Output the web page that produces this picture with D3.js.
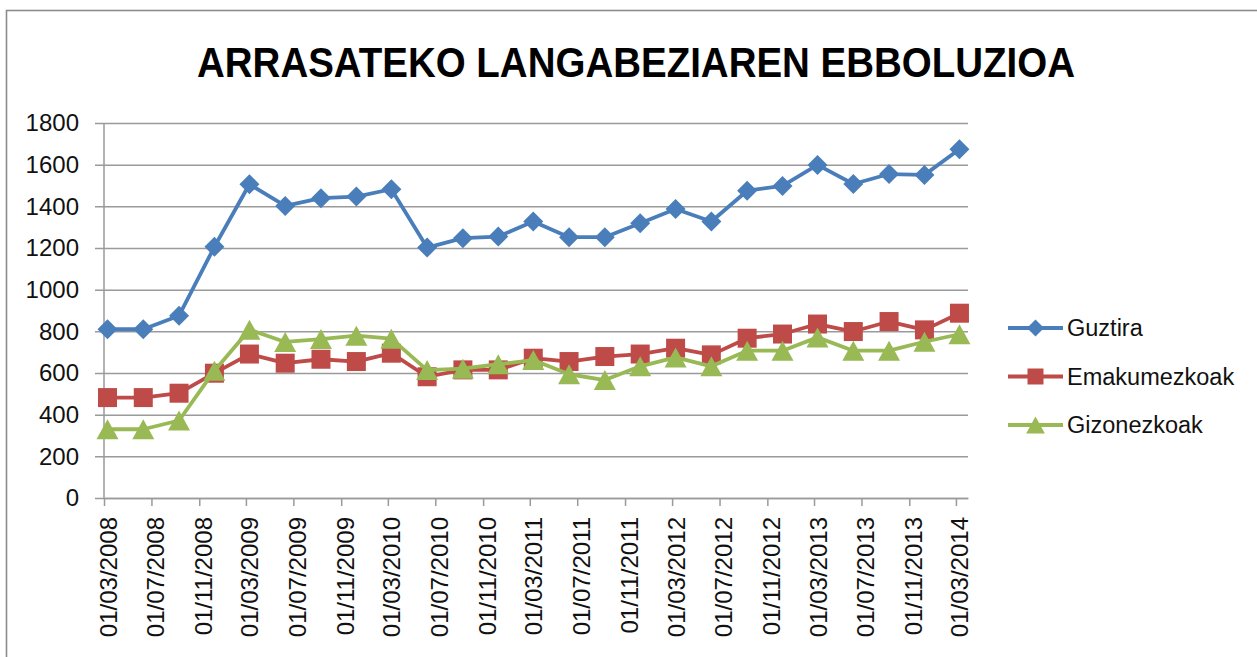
<!DOCTYPE html>
<html>
<head>
<meta charset="utf-8">
<script src="https://cdn.jsdelivr.net/npm/d3@7"></script>
<style>
  body { margin: 0; background: #fff; }
  text { font-family: "Liberation Sans", Arial, sans-serif; fill: #111; }
</style>
</head>
<body>
<div id="chart"></div>
<script>
// 1: DATA
const titleText = "ARRASATEKO LANGABEZIAREN EBBOLUZIOA";
const tickLabels = ["01/03/2008", "01/07/2008", "01/11/2008", "01/03/2009", "01/07/2009",
    "01/11/2009", "01/03/2010", "01/07/2010", "01/11/2010", "01/03/2011", "01/07/2011",
    "01/11/2011", "01/03/2012", "01/07/2012", "01/11/2012", "01/03/2013", "01/07/2013",
    "01/11/2013", "01/03/2014"];
const yTicks = [0, 200, 400, 600, 800, 1000, 1200, 1400, 1600, 1800];
const sampleDates = ["10/03/2008", "10/06/2008", "10/09/2008", "10/12/2008",
    "10/03/2009", "10/06/2009", "10/09/2009", "10/12/2009",
    "10/03/2010", "10/06/2010", "10/09/2010", "10/12/2010",
    "10/03/2011", "10/06/2011", "10/09/2011", "10/12/2011",
    "10/03/2012", "10/06/2012", "10/09/2012", "10/12/2012",
    "10/03/2013", "10/06/2013", "10/09/2013", "10/12/2013",
    "10/03/2014"];
const seriesNames = ["Guztira", "Emakumezkoak", "Gizonezkoak"];
const guztira = [810, 810, 875, 1206, 1506, 1402, 1439, 1447, 1482, 1202, 1247, 1255, 1327,
    1252, 1252, 1319, 1387, 1327, 1475, 1498, 1599, 1507, 1555, 1551, 1674];
const emakumezkoak = [482, 482, 503, 599, 691, 647, 666, 655, 695, 582, 615, 615, 671,
    655, 679, 691, 719, 687, 767, 787, 835, 799, 847, 807, 887];
const gizonezkoak = [330, 330, 372, 611, 808, 749, 763, 779, 765, 614, 621, 642, 662,
    594, 566, 632, 675, 632, 707, 707, 771, 707, 707, 750, 786];

// 2: LAYOUT
const W = 1257, H = 657;
const plot = { left: 104, right: 968, top: 123, bottom: 498 };
const gridColor = "#9a9a9a";

const parseDate = d3.timeParse("%d/%m/%Y");
const tickDates = tickLabels.map(parseDate);
const dates = sampleDates.map(parseDate);

const series = [
    { name: seriesNames[0], values: guztira, color: "#4a7ebb", marker: "diamond" },
    { name: seriesNames[1], values: emakumezkoak, color: "#be4b48", marker: "square" },
    { name: seriesNames[2], values: gizonezkoak, color: "#98b954", marker: "triangle" }
];

const markerPath = {
    diamond: r => `M0,${-r}L${r},0L0,${r}L${-r},0Z`,
    square: r => `M${-r},${-r}H${r}V${r}H${-r}Z`,
    triangle: r => `M0,${-r}L${r * 1.1},${r}L${-r * 1.1},${r}Z`
};
const markerSize = { diamond: 10, square: 9.5, triangle: 10 };

const svg = d3.select("#chart")
    .append("svg")
    .attr("width", W)
    .attr("height", H);

svg.append("rect")
    .attr("width", W).attr("height", H)
    .attr("fill", "#fff");

// outer chart frame (only top and left visible)
svg.append("rect")
    .attr("x", 6.5).attr("y", 10.5)
    .attr("width", W + 50).attr("height", H + 50)
    .attr("fill", "none")
    .attr("stroke", "#8c8c8c")
    .attr("stroke-width", 1.6);

// title
svg.append("text")
    .attr("x", 197)
    .attr("y", 77)
    .attr("font-size", 42)
    .attr("font-weight", "bold")
    .attr("textLength", 878)
    .attr("lengthAdjust", "spacingAndGlyphs")
    .style("fill", "#000")
    .text(titleText);

// 3: SCALES
const xScale = d3.scaleTime()
    .domain([parseDate("01/03/2008"), parseDate("01/04/2014")])
    .range([plot.left, plot.right]);

const yScale = d3.scaleLinear()
    .domain([0, 1800])
    .range([plot.bottom, plot.top]);

// 4: AXES
const yAxis = svg.append("g")
    .attr("transform", `translate(${plot.left - 9},0)`)
    .call(d3.axisLeft(yScale)
        .tickValues(yTicks)
        .tickFormat(d3.format("d"))
        .tickSize(-(plot.right - plot.left + 9))
        .tickPadding(16));
yAxis.select(".domain").remove();
yAxis.selectAll(".tick line")
    .attr("stroke", gridColor)
    .attr("stroke-width", 1.5);
yAxis.selectAll(".tick text")
    .attr("font-size", 24)
    .attr("font-family", "Liberation Sans, Arial, sans-serif")
    .style("fill", "#111");

// vertical axis line
svg.append("line")
    .attr("x1", xScale.range()[0]).attr("x2", xScale.range()[0])
    .attr("y1", yScale(1800)).attr("y2", yScale(0))
    .attr("stroke", gridColor)
    .attr("stroke-width", 1.5);

const xAxis = svg.append("g")
    .attr("transform", `translate(0,${plot.bottom})`)
    .call(d3.axisBottom(xScale)
        .tickValues(tickDates)
        .tickSizeInner(8)
        .tickSizeOuter(0)
        .tickFormat(d3.timeFormat("%d/%m/%Y")));
xAxis.select(".domain")
    .attr("stroke", gridColor)
    .attr("stroke-width", 1.5);
xAxis.selectAll(".tick line")
    .attr("stroke", gridColor)
    .attr("stroke-width", 1.5);
xAxis.selectAll(".tick text")
    .attr("font-size", 24)
    .attr("font-family", "Liberation Sans, Arial, sans-serif")
    .attr("text-anchor", "end")
    .attr("transform", "rotate(-90)")
    .attr("x", -19)
    .attr("y", 12)
    .attr("dy", 0)
    .style("fill", "#111");

// 5: LINES AND MARKERS
const line = d3.line()
    .x((d, i) => xScale(dates[i]))
    .y(d => yScale(d));

series.forEach(s => {
    const g = svg.append("g");
    g.append("path")
        .datum(s.values)
        .attr("fill", "none")
        .attr("stroke", s.color)
        .attr("stroke-width", 3.8)
        .attr("stroke-linejoin", "round")
        .attr("d", line);
    g.selectAll("path.mark")
        .data(s.values)
        .join("path")
        .attr("class", "mark")
        .attr("transform", (d, i) => `translate(${xScale(dates[i])},${yScale(d)})`)
        .attr("d", markerPath[s.marker](markerSize[s.marker]))
        .attr("fill", s.color);
});

// 6: LEGEND
const legend = svg.append("g")
    .attr("transform", "translate(1008,328)");
const legendItem = legend.selectAll("g")
    .data(series)
    .join("g")
    .attr("transform", (d, i) => `translate(0,${i * 48.5})`);
legendItem.append("line")
    .attr("x1", 0).attr("x2", 55)
    .attr("stroke", d => d.color)
    .attr("stroke-width", 3.8);
legendItem.append("path")
    .attr("transform", "translate(27.5,0)")
    .attr("d", d => markerPath[d.marker](markerSize[d.marker] - 1.5))
    .attr("fill", d => d.color);
legendItem.append("text")
    .attr("x", 59)
    .attr("dy", "0.35em")
    .attr("font-size", 23.5)
    .text(d => d.name);
</script>
</body>
</html>
